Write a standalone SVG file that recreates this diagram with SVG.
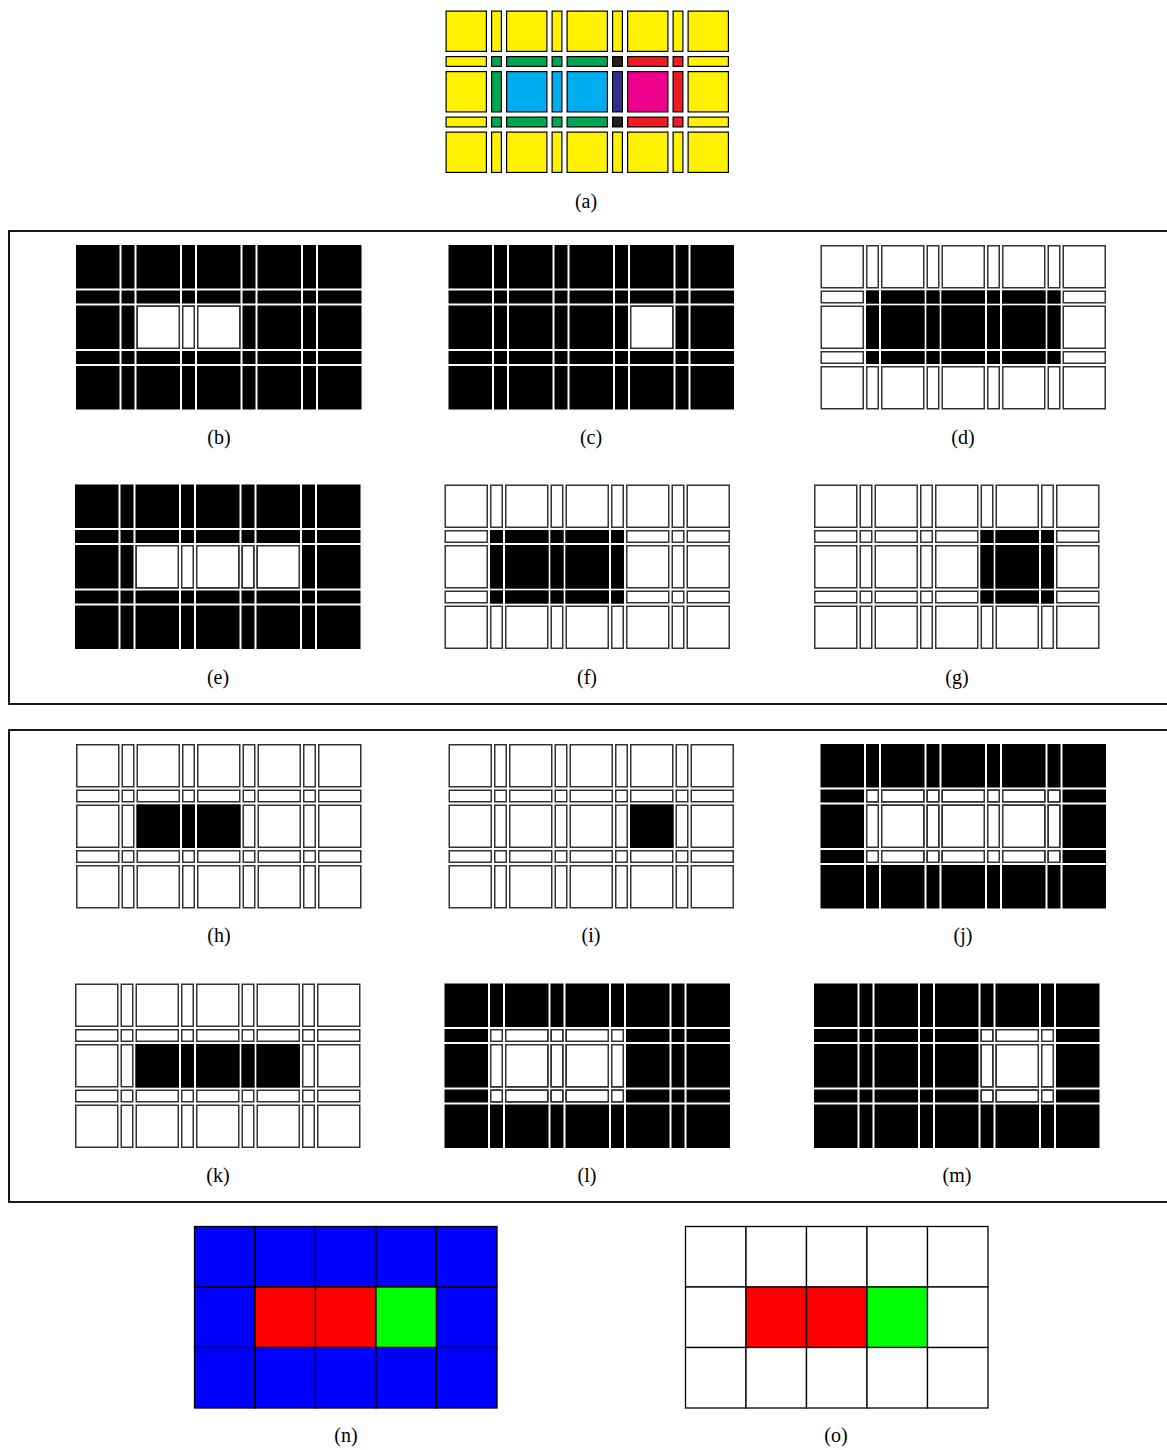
<svg xmlns="http://www.w3.org/2000/svg" xmlns:xlink="http://www.w3.org/1999/xlink" width="1167" height="1450" viewBox="0 0 1167 1450">
<style>
.b{fill:#000;stroke:#000;stroke-width:1.5}
.w{fill:#fff;stroke:#333;stroke-width:1.5}
.ac{stroke:#000;stroke-width:1.2}
.Y{fill:#fff200}.G{fill:#00a651}.C{fill:#00aeef}.N{fill:#2e3192}.M{fill:#ec008c}.R{fill:#ed1c24}.K{fill:#231f20}
.lbl{font-family:"Liberation Serif","Times New Roman",serif;font-size:20px;fill:#000;text-anchor:middle}
.frame{fill:none;stroke:#000;stroke-width:1.8}
.nc{stroke:#000;stroke-width:1.3}
.bl{fill:#0000fe}.rd{fill:#ff0000}.gn{fill:#00ff00}.wh{fill:#fff}
</style>
<defs>
<g id="rw">
<rect x="0.75" y="0" width="42" height="42"/><rect x="46.25" y="0" width="11.5" height="42"/><rect x="61.25" y="0" width="42" height="42"/><rect x="106.75" y="0" width="11.5" height="42"/><rect x="121.75" y="0" width="42" height="42"/><rect x="167.25" y="0" width="11.5" height="42"/><rect x="182.25" y="0" width="42" height="42"/><rect x="227.75" y="0" width="11.5" height="42"/><rect x="242.75" y="0" width="42" height="42"/>
</g>
<g id="rn">
<rect x="0.75" y="0" width="42" height="11.5"/><rect x="46.25" y="0" width="11.5" height="11.5"/><rect x="61.25" y="0" width="42" height="11.5"/><rect x="106.75" y="0" width="11.5" height="11.5"/><rect x="121.75" y="0" width="42" height="11.5"/><rect x="167.25" y="0" width="11.5" height="11.5"/><rect x="182.25" y="0" width="42" height="11.5"/><rect x="227.75" y="0" width="11.5" height="11.5"/><rect x="242.75" y="0" width="42" height="11.5"/>
</g>
<g id="all">
<use xlink:href="#rw" y="0.75"/><use xlink:href="#rn" y="46.25"/><use xlink:href="#rw" y="61.25"/><use xlink:href="#rn" y="106.75"/><use xlink:href="#rw" y="121.75"/>
</g>
<g id="r345">
<rect x="61.25" y="61.25" width="42" height="42"/><rect x="106.75" y="61.25" width="11.5" height="42"/><rect x="121.75" y="61.25" width="42" height="42"/>
</g>
<g id="r7">
<rect x="182.25" y="61.25" width="42" height="42"/>
</g>
<g id="r37">
<rect x="61.25" y="61.25" width="42" height="42"/><rect x="106.75" y="61.25" width="11.5" height="42"/><rect x="121.75" y="61.25" width="42" height="42"/><rect x="167.25" y="61.25" width="11.5" height="42"/><rect x="182.25" y="61.25" width="42" height="42"/>
</g>
<g id="s28w">
<rect x="46.25" y="0" width="11.5" height="42"/><rect x="61.25" y="0" width="42" height="42"/><rect x="106.75" y="0" width="11.5" height="42"/><rect x="121.75" y="0" width="42" height="42"/><rect x="167.25" y="0" width="11.5" height="42"/><rect x="182.25" y="0" width="42" height="42"/><rect x="227.75" y="0" width="11.5" height="42"/>
</g>
<g id="s28n">
<rect x="46.25" y="0" width="11.5" height="11.5"/><rect x="61.25" y="0" width="42" height="11.5"/><rect x="106.75" y="0" width="11.5" height="11.5"/><rect x="121.75" y="0" width="42" height="11.5"/><rect x="167.25" y="0" width="11.5" height="11.5"/><rect x="182.25" y="0" width="42" height="11.5"/><rect x="227.75" y="0" width="11.5" height="11.5"/>
</g>
<g id="r28">
<use xlink:href="#s28n" y="46.25"/><use xlink:href="#s28w" y="61.25"/><use xlink:href="#s28n" y="106.75"/>
</g>
<g id="s26w">
<rect x="46.25" y="0" width="11.5" height="42"/><rect x="61.25" y="0" width="42" height="42"/><rect x="106.75" y="0" width="11.5" height="42"/><rect x="121.75" y="0" width="42" height="42"/><rect x="167.25" y="0" width="11.5" height="42"/>
</g>
<g id="s26n">
<rect x="46.25" y="0" width="11.5" height="11.5"/><rect x="61.25" y="0" width="42" height="11.5"/><rect x="106.75" y="0" width="11.5" height="11.5"/><rect x="121.75" y="0" width="42" height="11.5"/><rect x="167.25" y="0" width="11.5" height="11.5"/>
</g>
<g id="r26">
<use xlink:href="#s26n" y="46.25"/><use xlink:href="#s26w" y="61.25"/><use xlink:href="#s26n" y="106.75"/>
</g>
<g id="s68w">
<rect x="167.25" y="0" width="11.5" height="42"/><rect x="182.25" y="0" width="42" height="42"/><rect x="227.75" y="0" width="11.5" height="42"/>
</g>
<g id="s68n">
<rect x="167.25" y="0" width="11.5" height="11.5"/><rect x="182.25" y="0" width="42" height="11.5"/><rect x="227.75" y="0" width="11.5" height="11.5"/>
</g>
<g id="r68">
<use xlink:href="#s68n" y="46.25"/><use xlink:href="#s68w" y="61.25"/><use xlink:href="#s68n" y="106.75"/>
</g>
</defs>
<rect width="1167" height="1450" fill="#fff"/>

<g id="panel-a" transform="translate(444.5,9.5)" class="ac">
<rect class="Y" x="1.6" y="1.6" width="40.3" height="40.3"/><rect class="Y" x="47.1" y="1.6" width="9.8" height="40.3"/><rect class="Y" x="62.1" y="1.6" width="40.3" height="40.3"/><rect class="Y" x="107.6" y="1.6" width="9.8" height="40.3"/><rect class="Y" x="122.6" y="1.6" width="40.3" height="40.3"/><rect class="Y" x="168.1" y="1.6" width="9.8" height="40.3"/><rect class="Y" x="183.1" y="1.6" width="40.3" height="40.3"/><rect class="Y" x="228.6" y="1.6" width="9.8" height="40.3"/><rect class="Y" x="243.6" y="1.6" width="40.3" height="40.3"/>
<rect class="Y" x="1.6" y="47.1" width="40.3" height="9.8"/><rect class="G" x="47.1" y="47.1" width="9.8" height="9.8"/><rect class="G" x="62.1" y="47.1" width="40.3" height="9.8"/><rect class="G" x="107.6" y="47.1" width="9.8" height="9.8"/><rect class="G" x="122.6" y="47.1" width="40.3" height="9.8"/><rect class="K" x="168.1" y="47.1" width="9.8" height="9.8"/><rect class="R" x="183.1" y="47.1" width="40.3" height="9.8"/><rect class="R" x="228.6" y="47.1" width="9.8" height="9.8"/><rect class="Y" x="243.6" y="47.1" width="40.3" height="9.8"/>
<rect class="Y" x="1.6" y="62.1" width="40.3" height="40.3"/><rect class="G" x="47.1" y="62.1" width="9.8" height="40.3"/><rect class="C" x="62.1" y="62.1" width="40.3" height="40.3"/><rect class="C" x="107.6" y="62.1" width="9.8" height="40.3"/><rect class="C" x="122.6" y="62.1" width="40.3" height="40.3"/><rect class="N" x="168.1" y="62.1" width="9.8" height="40.3"/><rect class="M" x="183.1" y="62.1" width="40.3" height="40.3"/><rect class="R" x="228.6" y="62.1" width="9.8" height="40.3"/><rect class="Y" x="243.6" y="62.1" width="40.3" height="40.3"/>
<rect class="Y" x="1.6" y="107.6" width="40.3" height="9.8"/><rect class="G" x="47.1" y="107.6" width="9.8" height="9.8"/><rect class="G" x="62.1" y="107.6" width="40.3" height="9.8"/><rect class="G" x="107.6" y="107.6" width="9.8" height="9.8"/><rect class="G" x="122.6" y="107.6" width="40.3" height="9.8"/><rect class="K" x="168.1" y="107.6" width="9.8" height="9.8"/><rect class="R" x="183.1" y="107.6" width="40.3" height="9.8"/><rect class="R" x="228.6" y="107.6" width="9.8" height="9.8"/><rect class="Y" x="243.6" y="107.6" width="40.3" height="9.8"/>
<rect class="Y" x="1.6" y="122.6" width="40.3" height="40.3"/><rect class="Y" x="47.1" y="122.6" width="9.8" height="40.3"/><rect class="Y" x="62.1" y="122.6" width="40.3" height="40.3"/><rect class="Y" x="107.6" y="122.6" width="9.8" height="40.3"/><rect class="Y" x="122.6" y="122.6" width="40.3" height="40.3"/><rect class="Y" x="168.1" y="122.6" width="9.8" height="40.3"/><rect class="Y" x="183.1" y="122.6" width="40.3" height="40.3"/><rect class="Y" x="228.6" y="122.6" width="9.8" height="40.3"/><rect class="Y" x="243.6" y="122.6" width="40.3" height="40.3"/>
</g>
<text class="lbl" x="586" y="208">(a)</text>

<rect class="frame" x="9" y="231" width="1170" height="473"/>
<rect class="frame" x="9" y="730" width="1170" height="472"/>

<g id="panel-b" transform="translate(76,245)"><use xlink:href="#all" class="b"/><use xlink:href="#r345" class="w"/></g>
<g id="panel-c" transform="translate(448.5,245)"><use xlink:href="#all" class="b"/><use xlink:href="#r7" class="w"/></g>
<g id="panel-d" transform="translate(820.5,245)"><use xlink:href="#all" class="w"/><use xlink:href="#r28" class="b"/></g>
<g id="panel-e" transform="translate(75,484.5)"><use xlink:href="#all" class="b"/><use xlink:href="#r37" class="w"/></g>
<g id="panel-f" transform="translate(444.5,484.5)"><use xlink:href="#all" class="w"/><use xlink:href="#r26" class="b"/></g>
<g id="panel-g" transform="translate(814,484.5)"><use xlink:href="#all" class="w"/><use xlink:href="#r68" class="b"/></g>
<g id="panel-h" transform="translate(76,744)"><use xlink:href="#all" class="w"/><use xlink:href="#r345" class="b"/></g>
<g id="panel-i" transform="translate(448.5,744)"><use xlink:href="#all" class="w"/><use xlink:href="#r7" class="b"/></g>
<g id="panel-j" transform="translate(820.5,744)"><use xlink:href="#all" class="b"/><use xlink:href="#r28" class="w"/></g>
<g id="panel-k" transform="translate(75,983.5)"><use xlink:href="#all" class="w"/><use xlink:href="#r37" class="b"/></g>
<g id="panel-l" transform="translate(444.5,983.5)"><use xlink:href="#all" class="b"/><use xlink:href="#r26" class="w"/></g>
<g id="panel-m" transform="translate(814,983.5)"><use xlink:href="#all" class="b"/><use xlink:href="#r68" class="w"/></g>

<g id="labels">
<text class="lbl" x="219" y="444">(b)</text>
<text class="lbl" x="591" y="444">(c)</text>
<text class="lbl" x="963" y="444">(d)</text>
<text class="lbl" x="218" y="684">(e)</text>
<text class="lbl" x="587" y="684">(f)</text>
<text class="lbl" x="957" y="684">(g)</text>
<text class="lbl" x="219" y="942">(h)</text>
<text class="lbl" x="591" y="942">(i)</text>
<text class="lbl" x="963" y="942">(j)</text>
<text class="lbl" x="218" y="1182">(k)</text>
<text class="lbl" x="587" y="1182">(l)</text>
<text class="lbl" x="957" y="1182">(m)</text>
<text class="lbl" x="346" y="1442">(n)</text>
<text class="lbl" x="836" y="1442">(o)</text>
</g>

<g id="panel-n" transform="translate(194.5,1226.5)" class="nc">
<rect class="bl" x="0" y="0" width="60.5" height="60.5"/><rect class="bl" x="60.5" y="0" width="60.5" height="60.5"/><rect class="bl" x="121" y="0" width="60.5" height="60.5"/><rect class="bl" x="181.5" y="0" width="60.5" height="60.5"/><rect class="bl" x="242" y="0" width="60.5" height="60.5"/>
<rect class="bl" x="0" y="60.5" width="60.5" height="60.5"/><rect class="rd" x="60.5" y="60.5" width="60.5" height="60.5"/><rect class="rd" x="121" y="60.5" width="60.5" height="60.5"/><rect class="gn" x="181.5" y="60.5" width="60.5" height="60.5"/><rect class="bl" x="242" y="60.5" width="60.5" height="60.5"/>
<rect class="bl" x="0" y="121" width="60.5" height="60.5"/><rect class="bl" x="60.5" y="121" width="60.5" height="60.5"/><rect class="bl" x="121" y="121" width="60.5" height="60.5"/><rect class="bl" x="181.5" y="121" width="60.5" height="60.5"/><rect class="bl" x="242" y="121" width="60.5" height="60.5"/>
</g>
<g id="panel-o" transform="translate(685.5,1226.5)" class="nc">
<rect class="wh" x="0" y="0" width="60.5" height="60.5"/><rect class="wh" x="60.5" y="0" width="60.5" height="60.5"/><rect class="wh" x="121" y="0" width="60.5" height="60.5"/><rect class="wh" x="181.5" y="0" width="60.5" height="60.5"/><rect class="wh" x="242" y="0" width="60.5" height="60.5"/>
<rect class="wh" x="0" y="60.5" width="60.5" height="60.5"/><rect class="rd" x="60.5" y="60.5" width="60.5" height="60.5"/><rect class="rd" x="121" y="60.5" width="60.5" height="60.5"/><rect class="gn" x="181.5" y="60.5" width="60.5" height="60.5"/><rect class="wh" x="242" y="60.5" width="60.5" height="60.5"/>
<rect class="wh" x="0" y="121" width="60.5" height="60.5"/><rect class="wh" x="60.5" y="121" width="60.5" height="60.5"/><rect class="wh" x="121" y="121" width="60.5" height="60.5"/><rect class="wh" x="181.5" y="121" width="60.5" height="60.5"/><rect class="wh" x="242" y="121" width="60.5" height="60.5"/>
</g>
</svg>
